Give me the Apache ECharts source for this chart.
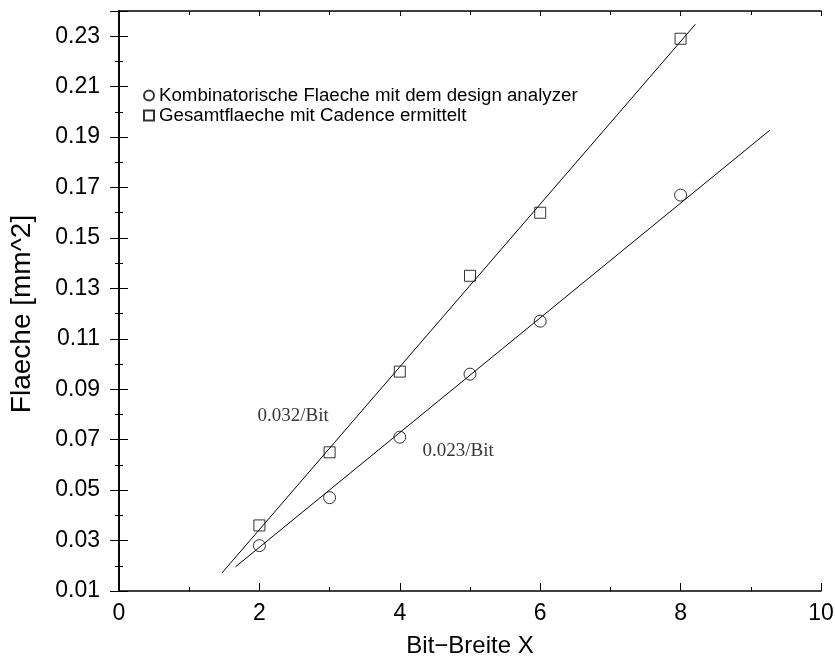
<!DOCTYPE html>
<html>
<head>
<meta charset="utf-8">
<script src="https://cdn.jsdelivr.net/npm/echarts@6/dist/echarts.min.js"></script>
<style>html,body{margin:0;padding:0;background:#fff}#c{width:835px;height:656px}</style>
</head>
<body>
<div id="c"></div>
<script>
// Data
const bitWidths = [2, 3, 4, 5, 6, 8];
const kombFlaeche = [0.028, 0.047, 0.071, 0.096, 0.117, 0.167];
const gesamtFlaeche = [0.036, 0.065, 0.097, 0.135, 0.160, 0.229];
// Fit lines (endpoints)
const fitGesamtX = [1.465, 8.21];
const fitGesamtY = [0.0171, 0.2347];
const fitKombX = [1.66, 9.27];
const fitKombY = [0.0196, 0.1927];
// Annotations
const annoText = ['0.032/Bit', '0.023/Bit'];
const annoX = [2.48, 4.83];
const annoY = [0.0794, 0.0655];
const seriesNames = ['Kombinatorische Flaeche mit dem design analyzer', 'Gesamtflaeche mit Cadence ermittelt'];
const xTicks = {min: 0, max: 10, interval: 2};
const yTicks = {min: 0.01, max: 0.24, interval: 0.02};

const sans = 'Liberation Sans, Arial, Helvetica, sans-serif';
const serif = 'Liberation Serif, Times New Roman, serif';
const zip = (a, b) => a.map((v, i) => [v, b[i]]);
const hollow = {color: 'rgba(0,0,0,0)', borderColor: '#000', borderWidth: 1};
const lineStyle = {color: '#000', width: 1.6};

const chart = echarts.init(document.getElementById('c'), null, {renderer: 'canvas'});
const xBase = {
  type: 'value', min: xTicks.min, max: xTicks.max, interval: xTicks.interval,
  axisLine: {show: true, lineStyle: lineStyle},
  splitLine: {show: false},
  minorTick: {show: true, splitNumber: 2, length: 4, lineStyle: {color: '#000', width: 1}},
  axisTick: {inside: true, length: 8, lineStyle: {color: '#000', width: 1}}
};
const yBase = {
  type: 'value', min: yTicks.min, max: yTicks.max, interval: yTicks.interval,
  axisLine: {show: true, lineStyle: lineStyle},
  splitLine: {show: false},
  minorTick: {show: true, splitNumber: 2, length: 4, lineStyle: {color: '#000', width: 1}},
  axisTick: {inside: true, length: 9, lineStyle: {color: '#000', width: 1}}
};
chart.setOption({
  animation: false,
  backgroundColor: '#fff',
  grid: {left: 119, top: 11, width: 702, height: 580, containLabel: false, outerBoundsMode: 'none'},
  legend: {
    orient: 'vertical', left: 143, top: 86, padding: 0, itemWidth: 10, itemHeight: 10, itemGap: 1,
    textStyle: {fontFamily: sans, fontSize: 18.7, color: '#000'},
    data: [
      {name: seriesNames[0], icon: 'circle'},
      {name: seriesNames[1], icon: 'rect'}
    ]
  },
  xAxis: [
    Object.assign({}, xBase, {
      position: 'bottom', name: 'Bit\u2212Breite X', nameLocation: 'middle', nameGap: 43,
      nameTextStyle: {fontFamily: sans, fontSize: 24, color: '#000'},
      axisLabel: {fontFamily: sans, fontSize: 23, color: '#000', margin: 11}
    }),
    Object.assign({}, xBase, {position: 'top', axisLabel: {show: false},
      axisTick: {inside: true, length: 5, lineStyle: {color: '#000', width: 1}}})
  ],
  yAxis: [
    Object.assign({}, yBase, {
      position: 'left', name: 'Flaeche [mm^2]', nameLocation: 'middle', nameGap: 83,
      nameTextStyle: {fontFamily: sans, fontSize: 28, color: '#000', padding: [0, 26, 0, 0]},
      axisLabel: {fontFamily: sans, fontSize: 23, color: '#000', margin: 19, showMaxLabel: false,
        formatter: v => v.toFixed(2)}
    }),
    Object.assign({}, yBase, {position: 'right', axisLabel: {show: false}})
  ],
  series: [
    {
      name: seriesNames[0], type: 'scatter', symbol: 'circle', symbolSize: 12,
      itemStyle: hollow, data: zip(bitWidths, kombFlaeche), z: 3
    },
    {
      name: seriesNames[1], type: 'scatter', symbol: 'rect', symbolSize: 11,
      itemStyle: hollow, data: zip(bitWidths, gesamtFlaeche), z: 3
    },
    {
      type: 'line', data: zip(fitGesamtX, fitGesamtY), symbol: 'none',
      lineStyle: {color: '#000', width: 1}, silent: true
    },
    {
      type: 'line', data: zip(fitKombX, fitKombY), symbol: 'none',
      lineStyle: {color: '#000', width: 1}, silent: true
    },
    {
      type: 'scatter', symbolSize: 0, silent: true,
      data: annoText.map((t, i) => ({value: [annoX[i], annoY[i]], name: t})),
      label: {show: true, position: 'inside', formatter: p => p.name,
        fontFamily: serif, fontSize: 19, color: '#000'}
    }
  ]
});
</script>
</body>
</html>
